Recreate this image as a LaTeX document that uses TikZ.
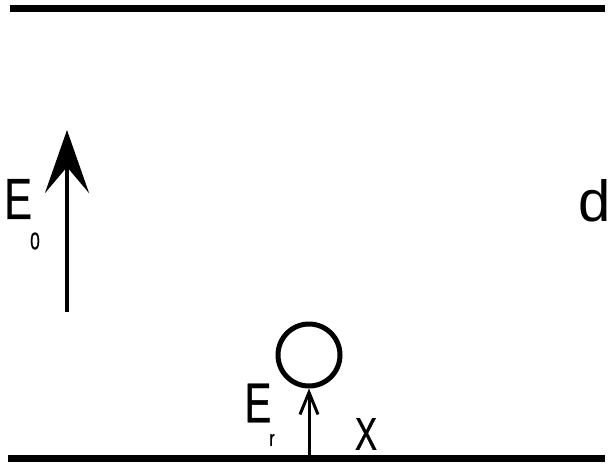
\documentclass[tikz,border=0pt]{standalone}
\usepackage{fontspec}
\newfontfamily\narrowsf[FakeStretch=0.72, FakeBold=0.6]{Liberation Sans}
\newfontfamily\plainsf{Liberation Sans}
\usetikzlibrary{positioning, arrows.meta}

\begin{document}
\begin{tikzpicture}[x=1pt, y=-1pt, lbl/.style={inner sep=0pt, font=\narrowsf},
    plate/.style={line width=7pt}]
    \useasboundingbox (0,0) rectangle (613,464);
    % the two plates
    \coordinate (topL) at (10,8);   \coordinate (topR) at (605,8);
    \coordinate (botL) at (8,458);  \coordinate (botR) at (605,458);
    \draw[plate] (topL) -- (topR);
    \draw[plate] (botL) -- (botR);
    \node[lbl, font=\plainsf\fontsize{58}{58}\selectfont] (dlbl) at (595,201) {d};
    % applied field
    \coordinate (e0base) at (67,312); \coordinate (e0tip) at (67,130);
    \draw[line width=4pt, -{Stealth[length=63pt, width=44pt, inset=26pt]}] (e0base) -- (e0tip);
    \node[lbl, font=\narrowsf\fontsize{58}{58}\selectfont] (e0) at (18,199) {E};
    \node[lbl, font=\narrowsf\fontsize{24}{24}\selectfont] (e0sub) at (35,241) {0};
    % drop on the lower plate
    \node[draw, circle, line width=5pt, minimum size=62pt] (drop) at (309,355) {};
    \coordinate (erbase) at (309,455);
    \draw[line width=3pt, -{Straight Barb[length=22pt, width=18pt, line width=3pt]}] (erbase) -- (drop.south);
    \node[lbl, font=\narrowsf\fontsize{56}{56}\selectfont] (er) at (258,403) {E};
    \node[lbl, font=\narrowsf\fontsize{22}{22}\selectfont] (ersub) at (272,440) {r};
    \node[lbl, font=\narrowsf\fontsize{46}{46}\selectfont] (xlbl) at (366,434) {X};
\end{tikzpicture}
\end{document}
